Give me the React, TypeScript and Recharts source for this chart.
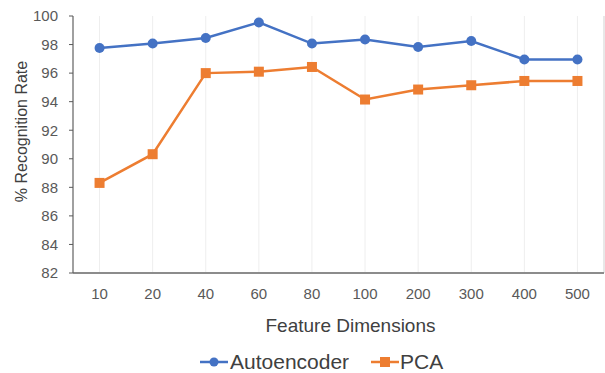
import React from "react";
import {
  LineChart,
  Line,
  XAxis,
  YAxis,
  CartesianGrid,
  Legend,
} from "recharts";

const categories = ["10", "20", "40", "60", "80", "100", "200", "300", "400", "500"];
const autoencoder = [97.76, 98.07, 98.46, 99.55, 98.07, 98.35, 97.83, 98.25, 96.95, 96.95];
const pca = [88.31, 90.32, 96.0, 96.1, 96.43, 94.15, 94.85, 95.15, 95.45, 95.45];
const yTicks = [82, 84, 86, 88, 90, 92, 94, 96, 98, 100];

const BLUE = "#4472C4";
const ORANGE = "#ED7D31";
const TEXT = "#595959";
const FONT = "'Liberation Sans', Arial, sans-serif";

const data = categories.map((label, i) => ({
  idx: i,
  label,
  autoencoder: autoencoder[i],
  pca: pca[i],
}));

const centerTicks = categories.map((_, i) => i);
const boundaryTicks = [...categories.map((_, i) => i - 0.5), categories.length - 0.5];

const SquareDot = (props: any) => {
  const { cx, cy } = props;
  if (cx == null || cy == null) return null;
  return <rect x={cx - 5} y={cy - 5} width={10} height={10} fill={ORANGE} />;
};

const LegendIcon = ({ color, square }: { color: string; square?: boolean }) => (
  <svg width={28} height={16} style={{ display: "block" }}>
    <line x1={0} y1={8} x2={28} y2={8} stroke={color} strokeWidth={2.5} />
    {square ? (
      <rect x={9} y={3} width={10} height={10} fill={color} />
    ) : (
      <circle cx={14} cy={8} r={4.5} fill={color} />
    )}
  </svg>
);

const renderLegend = () => (
  <div
    style={{
      display: "flex",
      alignItems: "center",
      fontFamily: FONT,
      fontSize: 21,
      color: "#404040",
      lineHeight: "24px",
    }}
  >
    <LegendIcon color={BLUE} />
    <span style={{ marginLeft: 2, marginRight: 22 }}>Autoencoder</span>
    <LegendIcon color={ORANGE} square />
    <span style={{ marginLeft: 1 }}>PCA</span>
  </div>
);

export default function App() {
  return (
    <div style={{ position: "absolute", left: 0, top: 0, fontFamily: FONT }}>
      <LineChart
        width={605}
        height={373}
        data={data}
        margin={{ top: 16, right: 1, bottom: 0, left: 0 }}
      >
        <CartesianGrid xAxisId="lab" horizontal={false} stroke="#eeeeee" />
        <CartesianGrid xAxisId="grid" horizontal={false} stroke="#d9d9d9" />
        <XAxis
          xAxisId="grid"
          dataKey="idx"
          type="number"
          domain={[-0.5, categories.length - 0.5]}
          ticks={boundaryTicks}
          tick={false}
          tickSize={5}
          height={1}
          axisLine={{ stroke: "#8c8c8c", strokeWidth: 2 }}
          tickLine={{ stroke: "#404040" }}
        />
        <XAxis
          xAxisId="lab"
          dataKey="idx"
          type="number"
          domain={[-0.5, categories.length - 0.5]}
          ticks={centerTicks}
          tickFormatter={(v: number) => categories[v]}
          interval={0}
          axisLine={false}
          tickLine={false}
          tickSize={0}
          tickMargin={14}
          height={99}
          tick={{ fill: TEXT, fontSize: 15, fontFamily: FONT }}
          label={{
            content: ({ viewBox }: any) => (
              <text
                x={viewBox.x + viewBox.width / 2 + 12}
                y={332}
                textAnchor="middle"
                fill="#404040"
                fontSize={19}
                fontFamily={FONT}
              >
                Feature Dimensions
              </text>
            ),
          }}
        />
        <YAxis
          domain={[82, 100]}
          ticks={yTicks}
          interval={0}
          width={73}
          tickSize={4}
          tickMargin={11}
          axisLine={{ stroke: "#595959" }}
          tickLine={{ stroke: "#595959" }}
          tick={{ fill: TEXT, fontSize: 15, fontFamily: FONT }}
          label={{
            content: ({ viewBox }: any) => {
              const x = viewBox.x + 21;
              const y = viewBox.y + viewBox.height / 2 - 13;
              return (
                <text
                  x={x}
                  y={y}
                  transform={`rotate(-90 ${x} ${y})`}
                  textAnchor="middle"
                  dominantBaseline="central"
                  fill="#404040"
                  fontSize={16}
                  fontFamily={FONT}
                >
                  % Recognition Rate
                </text>
              );
            },
          }}
        />
        <Legend
          verticalAlign="middle"
          align="center"
          content={renderLegend}
          wrapperStyle={{ left: 200, top: 350, width: 270, height: 24 }}
        />
        <Line
          xAxisId="lab"
          dataKey="autoencoder"
          name="Autoencoder"
          stroke={BLUE}
          strokeWidth={2.5}
          dot={{ r: 5, fill: BLUE, stroke: BLUE, strokeWidth: 0 }}
          isAnimationActive={false}
        />
        <Line
          xAxisId="lab"
          dataKey="pca"
          name="PCA"
          stroke={ORANGE}
          strokeWidth={2.5}
          dot={<SquareDot />}
          isAnimationActive={false}
        />
      </LineChart>
    </div>
  );
}
